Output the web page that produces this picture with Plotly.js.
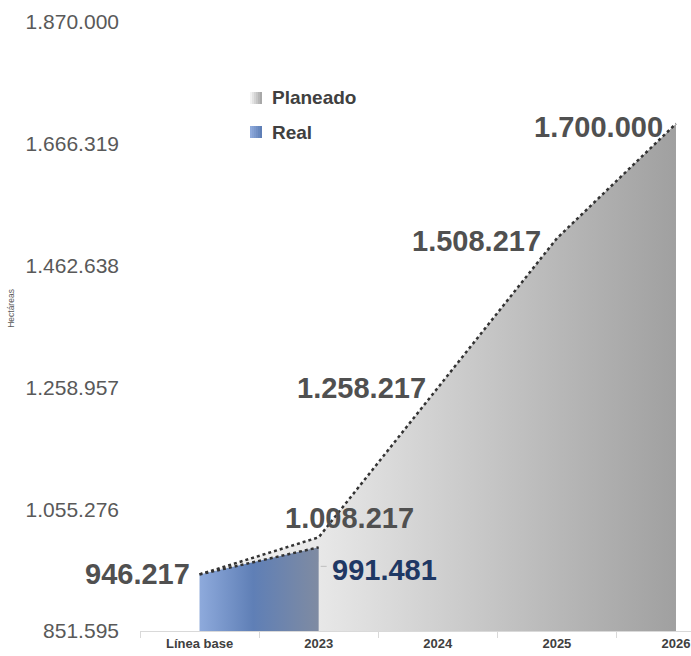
<!DOCTYPE html>
<html>
<head>
<meta charset="utf-8">
<script src="https://cdn.plot.ly/plotly-3.0.1.min.js"></script>
<style>html,body{margin:0;padding:0;background:#fff;overflow:hidden}#chart{width:691px;height:656px}</style>
</head>
<body>
<div id="chart"></div>
<script>
const categories = ["Línea base", "2023", "2024", "2025", "2026"];
const planeado = [946217, 1008217, 1258217, 1508217, 1700000];
const realCats = ["Línea base", "2023"];
const real = [946217, 991481];
const yTickVals = [851595, 1055276, 1258957, 1462638, 1666319, 1870000];
const yTickText = ["851.595", "1.055.276", "1.258.957", "1.462.638", "1.666.319", "1.870.000"];
const seriesNames = ["Planeado", "Real"];
const yTitle = "Hectáreas";

function fmt(v){ return v.toString().replace(/\B(?=(\d{3})+(?!\d))/g, "."); }

const traces = [
  {
    type: "scatter", mode: "lines", x: categories, y: planeado, name: seriesNames[0],
    fill: "tozeroy",
    fillgradient: {type: "horizontal", colorscale: [[0, "#f4f4f4"], [0.25, "#e8e8e8"], [1, "#a0a0a0"]]},
    line: {color: "#333333", width: 2.5, dash: "dot"},
    hoverinfo: "skip", showlegend: false
  },
  {
    type: "scatter", mode: "lines", x: realCats, y: real, name: seriesNames[1],
    fill: "tozeroy",
    fillgradient: {type: "horizontal", colorscale: [[0, "#8eaadc"], [0.45, "#5f7fb6"], [1, "#7f8ba2"]]},
    line: {color: "#333333", width: 2.5, dash: "dot"},
    hoverinfo: "skip", showlegend: false
  }
];

const labelFont = {family: "Liberation Sans, Arial, sans-serif", size: 29, color: "#505050", weight: "bold"};
const shifts = [[-8, 0, "right"], [31, 19, "center"], [-10, 0, "right"], [-14, -3, "right"], [-11, -3, "right"]];
const annotations = planeado.map((v, i) => ({
  x: categories.indexOf(categories[i]), y: v, xref: "x", yref: "y", text: "<b>" + fmt(v) + "</b>",
  showarrow: false, font: labelFont, xanchor: shifts[i][2], yanchor: "middle",
  xshift: shifts[i][0], yshift: shifts[i][1]
}));
annotations.push({
  x: categories.indexOf(realCats[1]), y: real[1], xref: "x", yref: "y", text: "<b>" + fmt(real[1]) + "</b>",
  showarrow: false, font: {family: "Liberation Sans, Arial, sans-serif", size: 29, color: "#1f3864"},
  xanchor: "left", yanchor: "middle", xshift: 11, yshift: -23
});
// y-axis title
annotations.push({
  xref: "paper", yref: "paper", x: -0.233, y: 0.53, text: yTitle, textangle: -90,
  showarrow: false, font: {family: "Liberation Sans, Arial, sans-serif", size: 8.5, color: "#595959"},
  xanchor: "center", yanchor: "middle"
});
// legend texts
const legendY = [98, 132];
seriesNames.forEach((n, i) => {
  annotations.push({
    xref: "paper", yref: "paper", x: (270 - 140) / 551, y: 1 - (legendY[i] - 22) / 609,
    text: "<b>" + n + "</b>", showarrow: false, xanchor: "left", yanchor: "middle",
    font: {family: "Liberation Sans, Arial, sans-serif", size: 19, color: "#404040"}
  });
});

const shapes = [];
// small leader line next to the real value label
shapes.push({type: "line", xref: "x", yref: "y", x0: 1, x1: 1, y0: real[1], y1: real[1],
  xsizemode: "pixel", xanchor: 1, ysizemode: "pixel", yanchor: real[1],
  line: {color: "#bfbfbf", width: 1}});
// legend swatches
const swatchColors = [["#f2f2f2", "#a8a8a8"], ["#8eaadc", "#5f7fb6"]];
legendY.forEach((cy, i) => {
  const y0 = 1 - (cy + 6 - 22) / 609, y1 = 1 - (cy - 6 - 22) / 609;
  for (let k = 0; k < 6; k++) {
    const t = k / 5;
    const c0 = swatchColors[i][0], c1 = swatchColors[i][1];
    const mix = (a, b) => Math.round(parseInt(a, 16) * (1 - t) + parseInt(b, 16) * t);
    const col = "rgb(" + mix(c0.slice(1,3), c1.slice(1,3)) + "," + mix(c0.slice(3,5), c1.slice(3,5)) + "," + mix(c0.slice(5,7), c1.slice(5,7)) + ")";
    shapes.push({type: "rect", xref: "paper", yref: "paper",
      x0: (250 + k * 2 - 140) / 551, x1: (252 + k * 2 - 140) / 551, y0: y0, y1: y1,
      line: {width: 0}, fillcolor: col});
  }
});
// pixel-offset leader line: from just right of 2023 point toward label
shapes[0] = {type: "line", xref: "x", yref: "y", xsizemode: "pixel", ysizemode: "pixel",
  xanchor: 1, yanchor: real[1], x0: 2, x1: 8, y0: -19, y1: -19,
  line: {color: "#bfbfbf", width: 1}};

const layout = {
  width: 691, height: 656,
  margin: {l: 140, r: 0, t: 22, b: 25},
  paper_bgcolor: "#ffffff", plot_bgcolor: "#ffffff",
  showlegend: false,
  xaxis: {
    type: "category", range: [-0.5, 4.126], showgrid: false, zeroline: false,
    showline: true, linecolor: "#d9d9d9", linewidth: 1,
    ticks: "outside", tickson: "boundaries", ticklen: 6, tickcolor: "#d9d9d9",
    tickfont: {family: "Liberation Sans Narrow, Arial Narrow, Liberation Sans, sans-serif", size: 13, color: "#404040", weight: "bold"},
    fixedrange: true
  },
  yaxis: {
    range: [851595, 1870000], showgrid: false, zeroline: false, showline: false,
    tickvals: yTickVals, ticktext: yTickText, ticks: "", ticklabelstandoff: 20,
    tickfont: {family: "Liberation Sans, Arial, sans-serif", size: 21, color: "#595959"},
    fixedrange: true
  },
  annotations: annotations,
  shapes: shapes
};

Plotly.newPlot("chart", traces, layout, {displayModeBar: false, staticPlot: true});
</script>
</body>
</html>
